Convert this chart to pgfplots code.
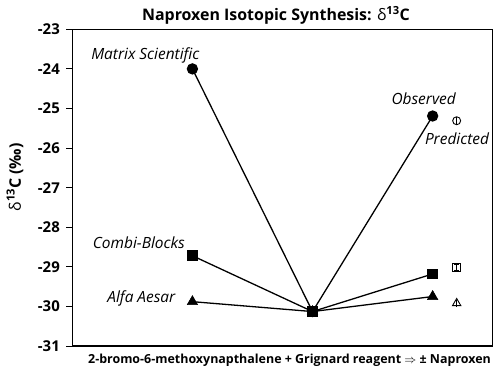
\documentclass[border=0pt]{standalone}
\usepackage{pgfplots}
\pgfplotsset{compat=1.18}
\usepackage{fontspec}
\setmainfont{Open Sans}
\begin{document}
\begin{tikzpicture}
\begin{axis}[
  scale only axis,
  width=420.4bp, height=316.7bp,
  xmin=0, xmax=3.5, ymin=-31, ymax=-23,
  xtick=\empty,
  ytick={-31,-30,-29,-28,-27,-26,-25,-24,-23},
  yticklabels={-31,-30,-29,-28,-27,-26,-25,-24,-23},
  yticklabel style={font=\fontsize{15}{17}\selectfont\bfseries, xshift=-3bp},
  tick align=outside,
  major tick length=6bp,
  ytick pos=left,
  axis line style={line width=1.3pt},
  tick style={line width=1pt, black},
  clip=false,
]
% lines with filled markers
\addplot[black, line width=1.3pt, mark=*, mark size=5bp] coordinates {(1,-24.0) (2,-30.13) (3,-25.19)};
\addplot[black, line width=1.3pt, mark=triangle*, mark size=6bp, mark options={line width=0.5pt}] coordinates {(1,-29.88) (2,-30.13) (3,-29.75)};
\addplot[black, line width=1.3pt, mark=square*, mark size=4.7bp] coordinates {(1,-28.72) (2,-30.13) (3,-29.18)};
% predicted
\addplot[black, only marks, mark=o, mark size=4bp, mark options={line width=0.9pt},
  error bars/.cd, y dir=both, y explicit, error bar style={line width=0.9pt}, error mark options={rotate=90, mark size=0pt}]
  coordinates {(3.2,-25.31) +- (0,0.1)};
\addplot[black, only marks, mark=square, mark size=3.8bp, mark options={line width=0.9pt},
  error bars/.cd, y dir=both, y explicit, error bar style={line width=0.9pt}, error mark options={rotate=90, mark size=2.4bp, line width=0.9pt}]
  coordinates {(3.2,-29.02) +- (0,0.08)};
\addplot[black, only marks, mark=triangle, mark size=4.8bp, mark options={line width=0.9pt},
  error bars/.cd, y dir=both, y explicit, error bar style={line width=0.9pt}, error mark options={rotate=90, mark size=0pt}]
  coordinates {(3.2,-29.92) +- (0,0.09)};
% labels
\node[font=\fontsize{15.5}{17}\selectfont\itshape] at (axis cs:0.608,-23.67) {Matrix Scientific};
\node[font=\fontsize{15.5}{17}\selectfont\itshape] at (axis cs:0.554,-28.40) {Combi-Blocks};
\node[font=\fontsize{15.5}{17}\selectfont\itshape] at (axis cs:0.575,-29.81) {Alfa Aesar};
\node[font=\fontsize{15.5}{17}\selectfont\itshape] at (axis cs:2.925,-24.76) {Observed};
\node[font=\fontsize{15.5}{17}\selectfont\itshape] at (axis cs:3.203,-25.77) {Predicted};
% title and axis labels
\node[font=\fontsize{16}{18}\selectfont\bfseries] at ([yshift=14.3bp]axis description cs:0.4845,1) {Naproxen Isotopic Synthesis: {\mdseries δ}\textsuperscript{13}C};
\node[font=\fontsize{16}{18}\selectfont\bfseries, rotate=90] at ([xshift=-57.3bp]axis description cs:0,0.533) {{\mdseries δ}\textsuperscript{13}C (‰)};
\node[font=\fontsize{12.5}{15}\selectfont\bfseries] at ([yshift=-14bp]axis description cs:0.5167,0) {2-bromo-6-methoxynapthalene + Grignard reagent $\Rightarrow$ ± Naproxen};
\end{axis}
\pgfresetboundingbox
\path[use as bounding box] (-72.3bp,-22bp) rectangle (422.7bp,346bp);
\end{tikzpicture}
\end{document}
